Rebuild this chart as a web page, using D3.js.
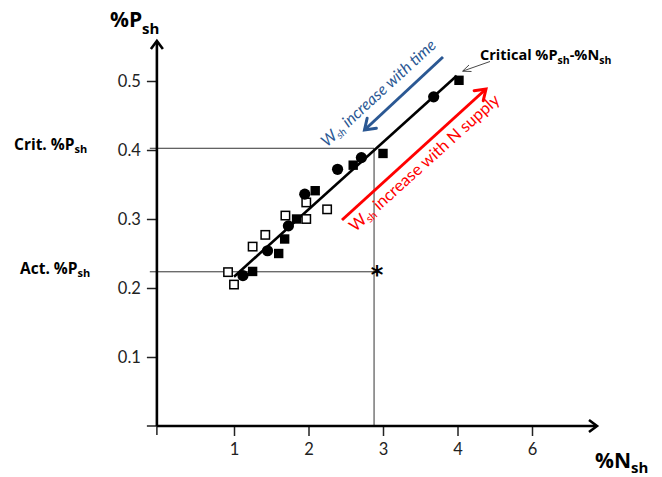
<!DOCTYPE html>
<html><head><meta charset="utf-8">
<script src="https://cdn.jsdelivr.net/npm/d3@7"></script>
<style>body{margin:0;background:#fff}svg{display:block}</style>
</head><body>
<svg id="c" width="662" height="477"></svg>
<script>
// ---- data ----
const xTickValues = [1, 2, 3, 4, 5];
const xTickLabels = ["1", "2", "3", "4", "6"];
const yTickValues = [0.1, 0.2, 0.3, 0.4, 0.5];
const yTickLabels = ["0.1", "0.2", "0.3", "0.4", "0.5"];

const openSquares = [
  [0.92, 0.223], [1.0, 0.205], [1.25, 0.260], [1.42, 0.277],
  [1.69, 0.305], [1.97, 0.324], [1.97, 0.300], [2.25, 0.314]
];
const filledSquares = [
  [1.25, 0.224], [1.60, 0.250], [1.68, 0.271], [1.84, 0.300],
  [2.09, 0.341], [2.60, 0.378], [3.00, 0.395], [4.02, 0.501]
];
const filledCircles = [
  [1.12, 0.218], [1.45, 0.254], [1.73, 0.290], [1.95, 0.336],
  [2.39, 0.372], [2.71, 0.389], [3.68, 0.477]
];
const criticalLine = [[1.0, 0.2164], [3.99, 0.5077]];
const critP = 0.4025;
const actP = 0.2235;
const actN = 2.88;
const starPoint = [2.92, 0.2235];

// ---- scales ----
const svg = d3.select("#c");
const x = d3.scaleLinear().domain([0, 5]).range([159.5, 532]);
const y = d3.scaleLinear().domain([0, 0.5]).range([426, 81]);
const FONT = "Lato, 'Open Sans', sans-serif";
const BFONT = "'Open Sans', Lato, sans-serif";

// reference lines
const g = svg.append("g");
g.append("line").attr("x1", x(-0.13)).attr("x2", x(actN)).attr("y1", y(critP)).attr("y2", y(critP))
  .attr("stroke", "#333").attr("stroke-width", 1);
g.append("line").attr("x1", x(-0.13)).attr("x2", x(starPoint[0])).attr("y1", y(actP)).attr("y2", y(actP))
  .attr("stroke", "#333").attr("stroke-width", 1);
g.append("line").attr("x1", x(actN)).attr("x2", x(actN)).attr("y1", y(critP)).attr("y2", y(0))
  .attr("stroke", "#333").attr("stroke-width", 1);

// axes
const xAxis = d3.axisBottom(x).tickValues(xTickValues).tickFormat((d, i) => xTickLabels[i]).tickSize(10).tickPadding(7);
const yAxis = d3.axisLeft(y).tickValues(yTickValues).tickFormat((d, i) => yTickLabels[i]).tickSize(10).tickPadding(6);
const gx = svg.append("g").attr("transform", `translate(0,${y(0)})`).call(xAxis);
const gy = svg.append("g").attr("transform", `translate(${x(-0.035)},0)`).call(yAxis);
[gx, gy].forEach(a => {
  a.select(".domain").remove();
  a.selectAll(".tick line").attr("stroke", "#222").attr("stroke-width", 1.5);
  a.selectAll(".tick text").attr("font-family", FONT).attr("font-size", 16.5).attr("fill", "#222");
});
// origin ticks
svg.append("line").attr("x1", x(-0.035) - 10).attr("x2", x(-0.035)).attr("y1", y(0)).attr("y2", y(0)).attr("stroke", "#222").attr("stroke-width", 1.5);
svg.append("line").attr("x1", x(-0.035)).attr("x2", x(-0.035)).attr("y1", y(0)).attr("y2", y(0) + 9).attr("stroke", "#222").attr("stroke-width", 1.5);

// axis lines with arrows
const ox = x(-0.035), oy = y(0);
svg.append("line").attr("x1", ox).attr("x2", ox).attr("y1", oy).attr("y2", 42).attr("stroke", "#000").attr("stroke-width", 2.6);
svg.append("path").attr("d", `M${ox - 6},${49} L${ox},${41} L${ox + 6},${49}`).attr("fill", "none").attr("stroke", "#000").attr("stroke-width", 2.6);
svg.append("line").attr("x1", ox).attr("x2", 596).attr("y1", oy).attr("y2", oy).attr("stroke", "#000").attr("stroke-width", 2.6);
svg.append("path").attr("d", `M${589},${oy - 6} L${597},${oy} L${589},${oy + 6}`).attr("fill", "none").attr("stroke", "#000").attr("stroke-width", 2.6);

// critical line
svg.append("line")
  .attr("x1", x(criticalLine[0][0])).attr("y1", y(criticalLine[0][1]))
  .attr("x2", x(criticalLine[1][0])).attr("y2", y(criticalLine[1][1]))
  .attr("stroke", "#000").attr("stroke-width", 2.6);

// markers
svg.append("g").selectAll("rect").data(openSquares).join("rect")
  .attr("x", d => x(d[0]) - 4.2).attr("y", d => y(d[1]) - 4.2)
  .attr("width", 8.4).attr("height", 8.4)
  .attr("fill", "#fff").attr("stroke", "#000").attr("stroke-width", 1.5);
svg.append("g").selectAll("rect").data(filledSquares).join("rect")
  .attr("x", d => x(d[0]) - 4.7).attr("y", d => y(d[1]) - 4.7)
  .attr("width", 9.4).attr("height", 9.4).attr("fill", "#000");
svg.append("g").selectAll("circle").data(filledCircles).join("circle")
  .attr("cx", d => x(d[0])).attr("cy", d => y(d[1])).attr("r", 5.6).attr("fill", "#000");

// asterisk
svg.append("text").attr("x", x(starPoint[0])).attr("y", y(starPoint[1]) + 11)
  .attr("text-anchor", "middle").attr("font-family", "'DejaVu Sans', sans-serif")
  .attr("font-size", 24).attr("font-weight", "bold").text("*");

function subText(sel, main, sub, subSize, dy) {
  sel.append("tspan").text(main);
  sel.append("tspan").attr("font-size", subSize).attr("dy", dy).text(sub);
}

// axis titles
subText(svg.append("text").attr("x", 110).attr("y", 27).attr("font-family", BFONT).attr("font-weight", "bold").attr("font-size", 21),
  "%P", "sh", 15, 7);
subText(svg.append("text").attr("x", 595).attr("y", 468).attr("font-family", BFONT).attr("font-weight", "bold").attr("font-size", 21),
  "%N", "sh", 15, 5);

// Crit / Act labels
subText(svg.append("text").attr("x", 14).attr("y", 150).attr("font-family", BFONT).attr("font-weight", "bold").attr("font-size", 15.5),
  "Crit. %P", "sh", 11, 3);
subText(svg.append("text").attr("x", 20).attr("y", 274).attr("font-family", BFONT).attr("font-weight", "bold").attr("font-size", 15.5),
  "Act. %P", "sh", 11, 3);

// Critical annotation
const crt = svg.append("text").attr("x", 480).attr("y", 60).attr("font-family", BFONT).attr("font-weight", "bold").attr("font-size", 14.5);
crt.append("tspan").text("Critical %P");
crt.append("tspan").attr("font-size", 10.5).attr("dy", 4).text("sh");
crt.append("tspan").attr("dy", -4).text("-%N");
crt.append("tspan").attr("font-size", 10.5).attr("dy", 4).text("sh");
svg.append("line").attr("x1", 490).attr("y1", 61.5).attr("x2", 463).attr("y2", 71).attr("stroke", "#333").attr("stroke-width", 0.9);
svg.append("path").attr("d", "M469,65 L462.5,71.2 L471.5,71.5").attr("fill", "none").attr("stroke", "#333").attr("stroke-width", 0.9);

function arrow(x1, y1, x2, y2, color, w, head) {
  svg.append("line").attr("x1", x1).attr("y1", y1).attr("x2", x2).attr("y2", y2)
    .attr("stroke", color).attr("stroke-width", w);
  const a = Math.atan2(y2 - y1, x2 - x1);
  const p = (ang) => [x2 - head * Math.cos(a + ang), y2 - head * Math.sin(a + ang)];
  const l = p(0.6), r = p(-0.6);
  svg.append("path").attr("d", `M${l[0]},${l[1]} L${x2},${y2} L${r[0]},${r[1]}`)
    .attr("fill", "none").attr("stroke", color).attr("stroke-width", w).attr("stroke-linecap", "round");
}
const blue = "#2b5893";
arrow(443, 57, 364.5, 130, blue, 3, 12);
arrow(342, 220, 486, 89, "#ff0000", 3, 12);

const bt = svg.append("text").attr("transform", "translate(382,97) rotate(-42.5)")
  .attr("text-anchor", "middle").attr("font-family", FONT).attr("font-style", "italic")
  .attr("font-size", 16).attr("fill", blue);
bt.append("tspan").text("W");
bt.append("tspan").attr("font-size", 10.5).attr("dy", 3).text("sh");
bt.append("tspan").attr("dy", -3).text(" increase with time");

const rt = svg.append("text").attr("transform", "translate(428,167) rotate(-42)")
  .attr("text-anchor", "middle").attr("font-family", FONT)
  .attr("font-size", 16.5).attr("fill", "#ff0000");
rt.append("tspan").text("W");
rt.append("tspan").attr("font-size", 11).attr("dy", 3).text("sh");
rt.append("tspan").attr("dy", -3).text(" increase with N supply");
</script>
</body></html>
